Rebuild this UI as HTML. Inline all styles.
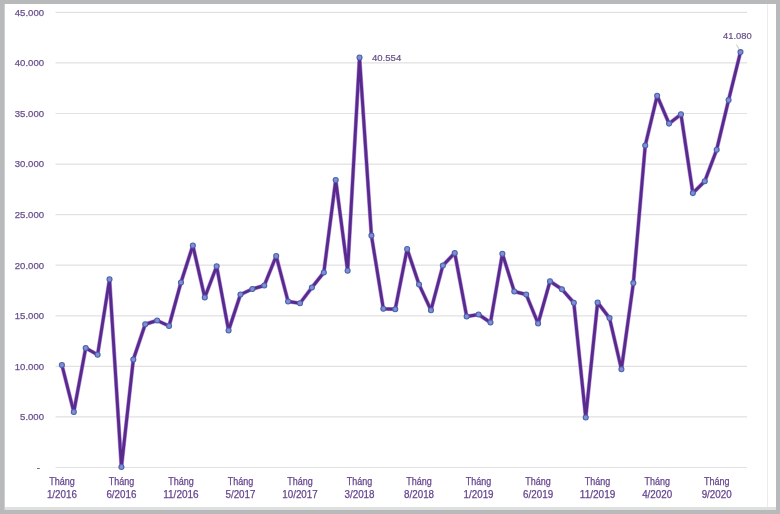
<!DOCTYPE html>
<html lang="vi"><head><meta charset="utf-8"><title>Biểu đồ</title>
<style>
html,body{margin:0;padding:0;background:#b8b9bb;}
body{width:780px;height:514px;overflow:hidden;position:relative;}
svg{position:absolute;left:0;top:0;display:block;}
text{font-family:"Liberation Sans","DejaVu Sans",sans-serif;}
.yl{font-size:9.6px;fill:#684f8c;stroke:#684f8c;stroke-width:0.25px;}
.xl{font-size:10.1px;fill:#66458f;stroke:#66458f;stroke-width:0.25px;}
.dl{font-size:9.6px;fill:#664f86;stroke:#664f86;stroke-width:0.2px;}
</style></head><body>
<svg width="780" height="514" viewBox="0 0 780 514">
<defs><filter id="soft" x="-2%" y="-2%" width="104%" height="104%"><feGaussianBlur stdDeviation="0.4"/></filter></defs>
<rect x="0" y="0" width="780" height="514" fill="#b8b9bb"/>
<g filter="url(#soft)">
<rect x="4.7" y="4" width="771.3" height="503" fill="#ffffff"/>
<rect x="4.5" y="507" width="771.5" height="3" fill="#dedfdf"/>
<line x1="767.5" y1="4" x2="767.5" y2="507" stroke="#ececf0" stroke-width="1"/>

<g stroke="#e1e1e1" stroke-width="1.2">
<line x1="55.5" y1="467.50" x2="747" y2="467.50"/>
<line x1="55.5" y1="416.93" x2="747" y2="416.93"/>
<line x1="55.5" y1="366.36" x2="747" y2="366.36"/>
<line x1="55.5" y1="315.79" x2="747" y2="315.79"/>
<line x1="55.5" y1="265.22" x2="747" y2="265.22"/>
<line x1="55.5" y1="214.65" x2="747" y2="214.65"/>
<line x1="55.5" y1="164.08" x2="747" y2="164.08"/>
<line x1="55.5" y1="113.51" x2="747" y2="113.51"/>
<line x1="55.5" y1="62.94" x2="747" y2="62.94"/>
<line x1="55.5" y1="12.37" x2="747" y2="12.37"/>
</g>
<g class="yl" text-anchor="end">
<text x="40" y="470.50" style="fill:#555">-</text>
<text x="44" y="420.23" textLength="23.9" lengthAdjust="spacingAndGlyphs">5.000</text>
<text x="44" y="369.66" textLength="29.2" lengthAdjust="spacingAndGlyphs">10.000</text>
<text x="44" y="319.09" textLength="29.2" lengthAdjust="spacingAndGlyphs">15.000</text>
<text x="44" y="268.52" textLength="29.2" lengthAdjust="spacingAndGlyphs">20.000</text>
<text x="44" y="217.95" textLength="29.2" lengthAdjust="spacingAndGlyphs">25.000</text>
<text x="44" y="167.38" textLength="29.2" lengthAdjust="spacingAndGlyphs">30.000</text>
<text x="44" y="116.81" textLength="29.2" lengthAdjust="spacingAndGlyphs">35.000</text>
<text x="44" y="66.24" textLength="29.2" lengthAdjust="spacingAndGlyphs">40.000</text>
<text x="44" y="15.67" textLength="29.2" lengthAdjust="spacingAndGlyphs">45.000</text>
</g>
<g class="xl" text-anchor="middle">
<text x="61.90" y="484.6" textLength="25.5" lengthAdjust="spacingAndGlyphs">Tháng</text>
<text x="61.90" y="497.5" textLength="30" lengthAdjust="spacingAndGlyphs">1/2016</text>
<text x="121.42" y="484.6" textLength="25.5" lengthAdjust="spacingAndGlyphs">Tháng</text>
<text x="121.42" y="497.5" textLength="30" lengthAdjust="spacingAndGlyphs">6/2016</text>
<text x="180.95" y="484.6" textLength="25.5" lengthAdjust="spacingAndGlyphs">Tháng</text>
<text x="180.95" y="497.5" textLength="35.5" lengthAdjust="spacingAndGlyphs">11/2016</text>
<text x="240.47" y="484.6" textLength="25.5" lengthAdjust="spacingAndGlyphs">Tháng</text>
<text x="240.47" y="497.5" textLength="30" lengthAdjust="spacingAndGlyphs">5/2017</text>
<text x="300.00" y="484.6" textLength="25.5" lengthAdjust="spacingAndGlyphs">Tháng</text>
<text x="300.00" y="497.5" textLength="35.5" lengthAdjust="spacingAndGlyphs">10/2017</text>
<text x="359.52" y="484.6" textLength="25.5" lengthAdjust="spacingAndGlyphs">Tháng</text>
<text x="359.52" y="497.5" textLength="30" lengthAdjust="spacingAndGlyphs">3/2018</text>
<text x="419.05" y="484.6" textLength="25.5" lengthAdjust="spacingAndGlyphs">Tháng</text>
<text x="419.05" y="497.5" textLength="30" lengthAdjust="spacingAndGlyphs">8/2018</text>
<text x="478.57" y="484.6" textLength="25.5" lengthAdjust="spacingAndGlyphs">Tháng</text>
<text x="478.57" y="497.5" textLength="30" lengthAdjust="spacingAndGlyphs">1/2019</text>
<text x="538.10" y="484.6" textLength="25.5" lengthAdjust="spacingAndGlyphs">Tháng</text>
<text x="538.10" y="497.5" textLength="30" lengthAdjust="spacingAndGlyphs">6/2019</text>
<text x="597.62" y="484.6" textLength="25.5" lengthAdjust="spacingAndGlyphs">Tháng</text>
<text x="597.62" y="497.5" textLength="35.5" lengthAdjust="spacingAndGlyphs">11/2019</text>
<text x="657.15" y="484.6" textLength="25.5" lengthAdjust="spacingAndGlyphs">Tháng</text>
<text x="657.15" y="497.5" textLength="30" lengthAdjust="spacingAndGlyphs">4/2020</text>
<text x="716.67" y="484.6" textLength="25.5" lengthAdjust="spacingAndGlyphs">Tháng</text>
<text x="716.67" y="497.5" textLength="30" lengthAdjust="spacingAndGlyphs">9/2020</text>
</g>
<path d="M61.90,365.00 L73.80,412.00 L85.71,348.00 L97.61,354.70 L109.52,279.25 L121.42,467.00 L133.33,359.50 L145.23,324.25 L157.14,320.50 L169.04,326.00 L180.95,282.50 L192.85,245.50 L204.76,297.50 L216.66,266.25 L228.57,330.50 L240.47,294.50 L252.38,289.00 L264.28,285.50 L276.19,256.00 L288.09,301.50 L300.00,303.25 L311.90,287.50 L323.81,272.50 L335.71,180.00 L347.62,270.75 L359.52,57.50 L371.43,235.60 L383.33,308.75 L395.24,309.25 L407.14,249.00 L419.05,284.50 L430.95,310.20 L442.86,265.50 L454.76,253.00 L466.67,316.50 L478.57,314.50 L490.48,322.50 L502.38,253.75 L514.29,291.50 L526.19,294.50 L538.10,323.50 L550.00,281.25 L561.91,289.25 L573.81,302.70 L585.72,417.50 L597.62,302.50 L609.53,318.10 L621.43,369.25 L633.34,283.10 L645.24,145.50 L657.15,95.80 L669.05,123.60 L680.96,114.30 L692.86,193.10 L704.77,181.20 L716.67,149.70 L728.58,100.10 L740.48,52.10" fill="none" stroke="#7c3cc4" stroke-width="4.1" stroke-linejoin="round" stroke-linecap="round" opacity="0.55"/>
<path d="M61.90,365.00 L73.80,412.00 L85.71,348.00 L97.61,354.70 L109.52,279.25 L121.42,467.00 L133.33,359.50 L145.23,324.25 L157.14,320.50 L169.04,326.00 L180.95,282.50 L192.85,245.50 L204.76,297.50 L216.66,266.25 L228.57,330.50 L240.47,294.50 L252.38,289.00 L264.28,285.50 L276.19,256.00 L288.09,301.50 L300.00,303.25 L311.90,287.50 L323.81,272.50 L335.71,180.00 L347.62,270.75 L359.52,57.50 L371.43,235.60 L383.33,308.75 L395.24,309.25 L407.14,249.00 L419.05,284.50 L430.95,310.20 L442.86,265.50 L454.76,253.00 L466.67,316.50 L478.57,314.50 L490.48,322.50 L502.38,253.75 L514.29,291.50 L526.19,294.50 L538.10,323.50 L550.00,281.25 L561.91,289.25 L573.81,302.70 L585.72,417.50 L597.62,302.50 L609.53,318.10 L621.43,369.25 L633.34,283.10 L645.24,145.50 L657.15,95.80 L669.05,123.60 L680.96,114.30 L692.86,193.10 L704.77,181.20 L716.67,149.70 L728.58,100.10 L740.48,52.10" fill="none" stroke="#58298c" stroke-width="2.9" stroke-linejoin="round" stroke-linecap="round"/>
<g fill="#7f8ddb" stroke="#4c63a6" stroke-width="1.1">
<circle cx="61.90" cy="365.00" r="2.5"/>
<circle cx="73.80" cy="412.00" r="2.5"/>
<circle cx="85.71" cy="348.00" r="2.5"/>
<circle cx="97.61" cy="354.70" r="2.5"/>
<circle cx="109.52" cy="279.25" r="2.5"/>
<circle cx="121.42" cy="467.00" r="2.5"/>
<circle cx="133.33" cy="359.50" r="2.5"/>
<circle cx="145.23" cy="324.25" r="2.5"/>
<circle cx="157.14" cy="320.50" r="2.5"/>
<circle cx="169.04" cy="326.00" r="2.5"/>
<circle cx="180.95" cy="282.50" r="2.5"/>
<circle cx="192.85" cy="245.50" r="2.5"/>
<circle cx="204.76" cy="297.50" r="2.5"/>
<circle cx="216.66" cy="266.25" r="2.5"/>
<circle cx="228.57" cy="330.50" r="2.5"/>
<circle cx="240.47" cy="294.50" r="2.5"/>
<circle cx="252.38" cy="289.00" r="2.5"/>
<circle cx="264.28" cy="285.50" r="2.5"/>
<circle cx="276.19" cy="256.00" r="2.5"/>
<circle cx="288.09" cy="301.50" r="2.5"/>
<circle cx="300.00" cy="303.25" r="2.5"/>
<circle cx="311.90" cy="287.50" r="2.5"/>
<circle cx="323.81" cy="272.50" r="2.5"/>
<circle cx="335.71" cy="180.00" r="2.5"/>
<circle cx="347.62" cy="270.75" r="2.5"/>
<circle cx="359.52" cy="57.50" r="2.5"/>
<circle cx="371.43" cy="235.60" r="2.5"/>
<circle cx="383.33" cy="308.75" r="2.5"/>
<circle cx="395.24" cy="309.25" r="2.5"/>
<circle cx="407.14" cy="249.00" r="2.5"/>
<circle cx="419.05" cy="284.50" r="2.5"/>
<circle cx="430.95" cy="310.20" r="2.5"/>
<circle cx="442.86" cy="265.50" r="2.5"/>
<circle cx="454.76" cy="253.00" r="2.5"/>
<circle cx="466.67" cy="316.50" r="2.5"/>
<circle cx="478.57" cy="314.50" r="2.5"/>
<circle cx="490.48" cy="322.50" r="2.5"/>
<circle cx="502.38" cy="253.75" r="2.5"/>
<circle cx="514.29" cy="291.50" r="2.5"/>
<circle cx="526.19" cy="294.50" r="2.5"/>
<circle cx="538.10" cy="323.50" r="2.5"/>
<circle cx="550.00" cy="281.25" r="2.5"/>
<circle cx="561.91" cy="289.25" r="2.5"/>
<circle cx="573.81" cy="302.70" r="2.5"/>
<circle cx="585.72" cy="417.50" r="2.5"/>
<circle cx="597.62" cy="302.50" r="2.5"/>
<circle cx="609.53" cy="318.10" r="2.5"/>
<circle cx="621.43" cy="369.25" r="2.5"/>
<circle cx="633.34" cy="283.10" r="2.5"/>
<circle cx="645.24" cy="145.50" r="2.5"/>
<circle cx="657.15" cy="95.80" r="2.5"/>
<circle cx="669.05" cy="123.60" r="2.5"/>
<circle cx="680.96" cy="114.30" r="2.5"/>
<circle cx="692.86" cy="193.10" r="2.5"/>
<circle cx="704.77" cy="181.20" r="2.5"/>
<circle cx="716.67" cy="149.70" r="2.5"/>
<circle cx="728.58" cy="100.10" r="2.5"/>
<circle cx="740.48" cy="52.10" r="2.5"/>
</g>
<line x1="736.5" y1="44.5" x2="739" y2="49" stroke="#b9b9a0" stroke-width="0.8"/>
<text class="dl" x="372" y="60.6" textLength="29.2" lengthAdjust="spacingAndGlyphs">40.554</text>
<text class="dl" x="723" y="39" textLength="28.6" lengthAdjust="spacingAndGlyphs">41.080</text>
</g></svg></body></html>
